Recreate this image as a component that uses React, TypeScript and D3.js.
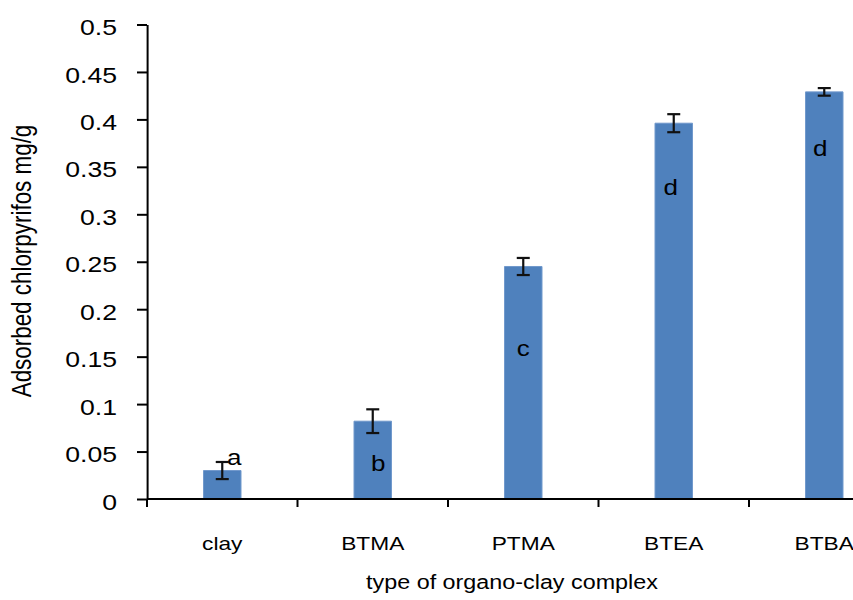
import React, { useEffect, useRef } from "react";
import * as d3 from "d3";

// data
const categories = ["clay", "BTMA", "PTMA", "BTEA", "BTBA"];
const adsorbed = [0.03, 0.082, 0.245, 0.396, 0.429];
const errors = [0.009, 0.0125, 0.009, 0.0095, 0.004];
const letters = ["a", "b", "c", "d", "d"];
const letterLevel = [0.036, 0.03, 0.151, 0.32, 0.361];
const yTickValues = [0, 0.05, 0.1, 0.15, 0.2, 0.25, 0.3, 0.35, 0.4, 0.45, 0.5];

const WIDTH = 853;
const HEIGHT = 600;
const SX = 1.21; // the original figure is stretched horizontally

export default function App() {
  const ref = useRef<SVGSVGElement>(null);

  useEffect(() => {
    const svg = d3.select(ref.current);
    svg.selectAll("*").remove();

    const font = "'Liberation Sans', Arial, Helvetica, sans-serif";
    const g = svg
      .append("g")
      .attr("transform", `scale(${SX},1)`)
      .style("font-family", font);

    const left = 147 / SX;
    const step = 150.5 / SX;
    const top = 24.5;
    const bottom = 499;

    const x = d3
      .scaleBand<string>()
      .domain(categories)
      .range([left, left + step * categories.length])
      .padding(0);

    const y = d3.scaleLinear().domain([0, 0.5]).range([bottom, top]);

    const barW = 37.5 / SX;
    const capW = 6.5 / SX;

    // bars
    g.selectAll("rect.bar")
      .data(categories)
      .enter()
      .append("rect")
      .attr("class", "bar")
      .attr("x", (d) => x(d)! + x.bandwidth() / 2 - barW / 2)
      .attr("y", (d, i) => y(adsorbed[i]))
      .attr("width", barW)
      .attr("height", (d, i) => bottom - y(adsorbed[i]))
      .attr("fill", "#4f81bd")
      .attr("stroke", "#7199cc")
      .attr("stroke-width", 1)
      .attr("vector-effect", "non-scaling-stroke");

    // error bars
    const eb = g
      .selectAll("g.err")
      .data(categories)
      .enter()
      .append("g")
      .attr("class", "err")
      .attr("stroke", "#111")
      .attr("stroke-width", 2.2);
    const cx = (d: string) => x(d)! + x.bandwidth() / 2;
    eb.append("line")
      .attr("x1", cx)
      .attr("x2", cx)
      .attr("y1", (d, i) => y(adsorbed[i] + errors[i]))
      .attr("y2", (d, i) => y(adsorbed[i] - errors[i]))
      .attr("vector-effect", "non-scaling-stroke");
    [1, -1].forEach((s) => {
      eb.append("line")
        .attr("x1", (d) => cx(d) - capW)
        .attr("x2", (d) => cx(d) + capW)
        .attr("y1", (d, i) => y(adsorbed[i] + s * errors[i]))
        .attr("y2", (d, i) => y(adsorbed[i] + s * errors[i]))
        .attr("vector-effect", "non-scaling-stroke");
    });

    // significance letters
    const letterDx = [12, 5.5, 0, -3, -4];
    g.selectAll("text.letter")
      .data(categories)
      .enter()
      .append("text")
      .attr("class", "letter")
      .attr("x", (d, i) => cx(d) + letterDx[i] / SX)
      .attr("y", (d, i) => y(letterLevel[i]))
      .attr("text-anchor", "middle")
      .attr("font-size", 21.5)
      .attr("fill", "#000")
      .text((d, i) => letters[i]);

    // y axis
    const yAxis = g
      .append("g")
      .attr("transform", `translate(${left},0)`)
      .call(
        d3
          .axisLeft(y)
          .tickValues(yTickValues)
          .tickFormat((d) => `${d}`)
          .tickSize(10 / SX)
          .tickSizeOuter(0)
          .tickPadding(16.5)
      );
    yAxis.selectAll("path, line")
      .attr("stroke", "#000")
      .attr("stroke-width", 2)
      .attr("vector-effect", "non-scaling-stroke");
    yAxis.selectAll("text")
      .attr("font-size", 22)
      .attr("font-family", font)
      .attr("fill", "#000")
      .attr("dy", "0.46em");

    // x axis line with boundary ticks
    g.append("line")
      .attr("x1", left)
      .attr("x2", WIDTH / SX)
      .attr("y1", bottom)
      .attr("y2", bottom)
      .attr("stroke", "#000")
      .attr("stroke-width", 2)
      .attr("vector-effect", "non-scaling-stroke");
    g.selectAll("line.xtick")
      .data(categories)
      .enter()
      .append("line")
      .attr("class", "xtick")
      .attr("x1", (d) => x(d)!)
      .attr("x2", (d) => x(d)!)
      .attr("y1", bottom)
      .attr("y2", bottom + 8)
      .attr("stroke", "#000")
      .attr("stroke-width", 2)
      .attr("vector-effect", "non-scaling-stroke");

    g.selectAll("text.cat")
      .data(categories)
      .enter()
      .append("text")
      .attr("class", "cat")
      .attr("x", (d) => cx(d))
      .attr("y", 550)
      .attr("text-anchor", "middle")
      .attr("font-size", 18.8)
      .attr("fill", "#000")
      .text((d) => d);

    // axis titles
    g.append("text")
      .attr("x", 512 / SX)
      .attr("y", 589)
      .attr("text-anchor", "middle")
      .attr("font-size", 19.3)
      .attr("fill", "#000")
      .text("type of organo-clay complex");

    g.append("text")
      .attr("transform", `translate(${31 / SX},261) rotate(-90)`)
      .attr("text-anchor", "middle")
      .attr("font-size", 22.4)
      .attr("fill", "#000")
      .text("Adsorbed chlorpyrifos mg/g");
  }, []);

  return (
    <svg
      ref={ref}
      width={WIDTH}
      height={HEIGHT}
      style={{ position: "absolute", left: 0, top: 0, background: "#fff" }}
    />
  );
}
